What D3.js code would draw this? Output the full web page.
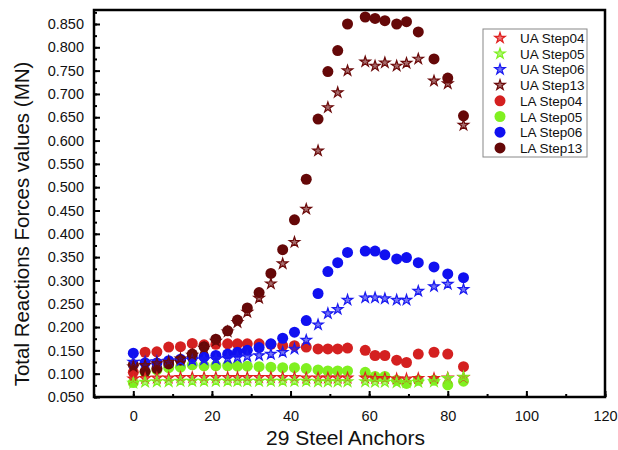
<!DOCTYPE html>
<html>
<head>
<meta charset="utf-8">
<script src="https://cdn.jsdelivr.net/npm/d3@7"></script>
<style>
  body { margin: 0; background: #fff; }
  svg { font-family: "Liberation Sans", Arial, sans-serif; }
</style>
</head>
<body>
<div id="chart"></div>
<script>
// anchor positions
const anchors = [0, 3, 6, 9, 12, 15, 18, 21, 24, 26.5, 29, 32, 35, 38, 41, 44, 47, 49.5, 52, 54.5, 59, 61.5, 64, 67, 69.5, 72.5, 76.5, 80, 84];

const uaStep04 = [0.089, 0.090, 0.091, 0.091, 0.092, 0.092, 0.092, 0.092, 0.092, 0.092, 0.092, 0.092, 0.092, 0.092, 0.092, 0.091, 0.091, 0.091, 0.091, 0.091, 0.091, 0.090, 0.090, 0.089, 0.089, 0.090, 0.090, 0.091, 0.092];
const uaStep05 = [0.080, 0.082, 0.083, 0.083, 0.084, 0.084, 0.084, 0.084, 0.084, 0.084, 0.084, 0.084, 0.084, 0.084, 0.084, 0.084, 0.083, 0.083, 0.083, 0.083, 0.083, 0.082, 0.082, 0.081, 0.081, 0.082, 0.083, 0.090, 0.093];
const uaStep06 = [0.125, 0.125, 0.126, 0.127, 0.128, 0.129, 0.130, 0.131, 0.133, 0.135, 0.137, 0.139, 0.142, 0.146, 0.153, 0.172, 0.205, 0.229, 0.238, 0.258, 0.263, 0.263, 0.261, 0.258, 0.258, 0.277, 0.287, 0.292, 0.281];
const uaStep13 = [0.115, 0.118, 0.122, 0.125, 0.132, 0.140, 0.155, 0.170, 0.190, 0.210, 0.232, 0.262, 0.293, 0.336, 0.382, 0.453, 0.578, 0.671, 0.703, 0.750, 0.769, 0.760, 0.767, 0.760, 0.766, 0.775, 0.728, 0.722, 0.633];
const laStep04 = [0.103, 0.146, 0.147, 0.157, 0.158, 0.165, 0.162, 0.163, 0.164, 0.164, 0.164, 0.164, 0.163, 0.160, 0.160, 0.157, 0.153, 0.153, 0.153, 0.155, 0.150, 0.139, 0.139, 0.129, 0.124, 0.142, 0.146, 0.142, 0.115];
const laStep05 = [0.081, 0.103, 0.108, 0.113, 0.114, 0.119, 0.117, 0.117, 0.117, 0.116, 0.116, 0.115, 0.114, 0.113, 0.113, 0.111, 0.108, 0.106, 0.106, 0.106, 0.103, 0.094, 0.094, 0.086, 0.079, 0.086, 0.086, 0.076, 0.084];
const laStep06 = [0.144, 0.123, 0.123, 0.128, 0.131, 0.135, 0.136, 0.139, 0.142, 0.146, 0.150, 0.156, 0.164, 0.176, 0.189, 0.214, 0.272, 0.319, 0.338, 0.360, 0.363, 0.363, 0.355, 0.346, 0.349, 0.338, 0.329, 0.314, 0.306];
const laStep13 = [0.119, 0.105, 0.111, 0.121, 0.129, 0.142, 0.158, 0.174, 0.192, 0.215, 0.241, 0.274, 0.315, 0.366, 0.430, 0.517, 0.646, 0.748, 0.793, 0.850, 0.865, 0.862, 0.857, 0.850, 0.855, 0.833, 0.775, 0.734, 0.653];

const xTicks = [0, 20, 40, 60, 80, 100, 120];
const yTicks = d3.range(0.05, 0.851, 0.05);

const series = [
  { name: 'UA Step04', values: uaStep04, color: '#e02020', shape: 'star' },
  { name: 'UA Step05', values: uaStep05, color: '#7ef020', shape: 'star' },
  { name: 'UA Step06', values: uaStep06, color: '#1a1af0', shape: 'star' },
  { name: 'UA Step13', values: uaStep13, color: '#6b0a0a', shape: 'star' },
  { name: 'LA Step04', values: laStep04, color: '#d42020', shape: 'dot' },
  { name: 'LA Step05', values: laStep05, color: '#80f020', shape: 'dot' },
  { name: 'LA Step06', values: laStep06, color: '#1010f0', shape: 'dot' },
  { name: 'LA Step13', values: laStep13, color: '#650808', shape: 'dot' }
];

const W = 618, H = 450;
const m = { left: 94, right: 13, top: 10, bottom: 53 };

const svg = d3.select('#chart').append('svg').attr('width', W).attr('height', H);

const x = d3.scaleLinear().domain([-10, 120]).range([m.left, W - m.right]);
const y = d3.scaleLinear().domain([0.05, 0.88]).range([H - m.bottom, m.top]);

// ticks (inward)
const gx = svg.append('g').attr('transform', `translate(0,${H - m.bottom})`)
  .call(d3.axisBottom(x).tickValues(d3.range(-10, 121, 10)).tickSize(-3).tickFormat(''));
const gx2 = svg.append('g').attr('transform', `translate(0,${H - m.bottom})`)
  .call(d3.axisBottom(x).tickValues(xTicks).tickSize(-6).tickPadding(14).tickFormat(d3.format('d')));
const gy = svg.append('g').attr('transform', `translate(${m.left},0)`)
  .call(d3.axisLeft(y).tickValues(d3.range(0.05, 0.876, 0.025)).tickSize(-3).tickFormat(''));
const gy2 = svg.append('g').attr('transform', `translate(${m.left},0)`)
  .call(d3.axisLeft(y).tickValues(yTicks).tickSize(-6).tickPadding(10).tickFormat(d3.format('.3f')));

[gx, gx2, gy, gy2].forEach(g => {
  g.select('.domain').remove();
  g.selectAll('line').attr('stroke', '#000').attr('stroke-width', 2);
  g.selectAll('text').attr('fill', '#111').style('font-size', '14.5px');
});

// frame
svg.append('rect')
  .attr('x', m.left).attr('y', m.top)
  .attr('width', W - m.left - m.right).attr('height', H - m.top - m.bottom)
  .attr('fill', 'none').attr('stroke', '#000').attr('stroke-width', 2.5);

const star = d3.symbol().type(d3.symbolStar).size(34);

function drawMark(g, s, cx, cy) {
  if (s.shape === 'dot') {
    g.append('circle').attr('cx', cx).attr('cy', cy).attr('r', 5.5).attr('fill', s.color);
  } else {
    g.append('path').attr('d', star()).attr('transform', `translate(${cx},${cy})`)
      .attr('fill', s.color).attr('fill-opacity', 0.6)
      .attr('stroke', s.color).attr('stroke-width', 1.2);
  }
}

// draw dots first, stars on top
const order = [4, 5, 6, 7, 0, 1, 2, 3];
order.forEach(i => {
  const s = series[i];
  const g = svg.append('g');
  anchors.forEach((a, j) => drawMark(g, s, x(a), y(s.values[j])));
});

// legend
const lg = svg.append('g').attr('transform', 'translate(483,29)');
lg.append('rect').attr('width', 104).attr('height', 128)
  .attr('fill', '#fff').attr('stroke', '#888').attr('stroke-width', 1);
series.forEach((s, i) => {
  const cy = 9 + i * 15.7;
  drawMark(lg, s, 17, cy);
  lg.append('text').attr('x', 37).attr('y', cy + 5)
    .style('font-size', '13.5px').attr('fill', '#111').text(s.name);
});

// axis titles
svg.append('text')
  .attr('x', (m.left + W - m.right) / 2 - 4).attr('y', 445)
  .attr('text-anchor', 'middle').style('font-size', '21px').attr('fill', '#111')
  .text('29 Steel Anchors');
svg.append('text')
  .attr('transform', 'translate(29,224) rotate(-90)')
  .attr('text-anchor', 'middle').style('font-size', '20.5px').attr('fill', '#111')
  .text('Total Reactions Forces values (MN)');
</script>
</body>
</html>
